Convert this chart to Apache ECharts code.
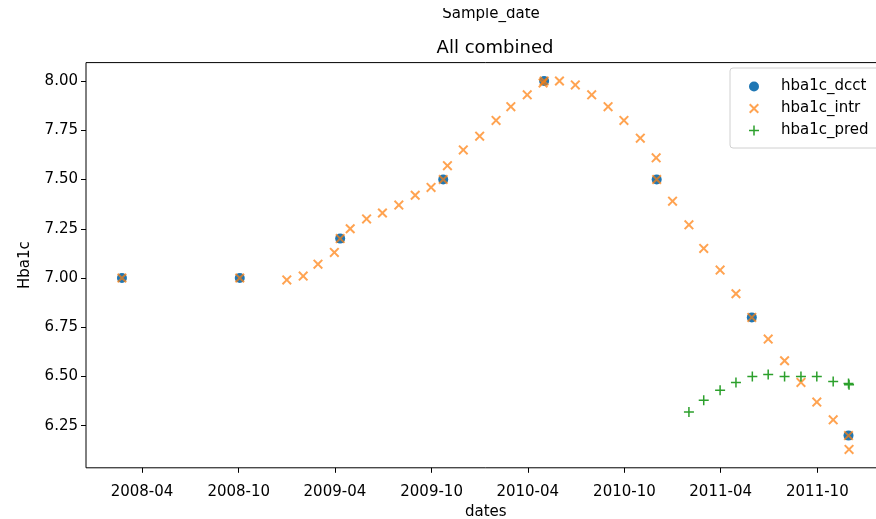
<!DOCTYPE html>
<html><head><meta charset="utf-8">
<script src="https://cdn.jsdelivr.net/npm/echarts@6/dist/echarts.min.js"></script>
<style>
html,body{margin:0;padding:0;background:#fff;overflow:hidden;width:876px;height:519px}
#wrap{position:relative;width:876px;height:519px;overflow:hidden}
#c{position:absolute;left:0;top:0;width:892px;height:519px}
</style>
</head><body><div id="wrap"><div id="c"></div></div>
<script>
// ---- data ----
const dcctDates = ['2008-02-23','2008-10-03','2009-04-11','2009-10-23','2010-05-02','2010-12-01','2011-05-30','2011-11-29'];
const dcctValues = [7.00, 7.00, 7.20, 7.50, 8.00, 7.50, 6.80, 6.20];

const intrDates = ['2008-02-23','2008-10-03','2008-12-31','2009-01-31','2009-02-28','2009-03-31','2009-04-11','2009-04-30',
  '2009-05-31','2009-06-30','2009-07-31','2009-08-31','2009-09-30','2009-10-23','2009-10-31','2009-11-30','2009-12-31',
  '2010-01-31','2010-02-28','2010-03-31','2010-04-30','2010-05-02','2010-05-31','2010-06-30','2010-07-31','2010-08-31',
  '2010-09-30','2010-10-31','2010-11-30','2010-12-01','2010-12-31','2011-01-31','2011-02-28','2011-03-31','2011-04-30',
  '2011-05-30','2011-06-30','2011-07-31','2011-08-31','2011-09-30','2011-10-31','2011-11-29','2011-11-30'];
const intrValues = [7.00, 7.00, 6.99, 7.01, 7.07, 7.13, 7.20, 7.25,
  7.30, 7.33, 7.37, 7.42, 7.46, 7.50, 7.57, 7.65, 7.72,
  7.80, 7.87, 7.93, 7.99, 8.00, 8.00, 7.98, 7.93, 7.87,
  7.80, 7.71, 7.61, 7.50, 7.39, 7.27, 7.15, 7.04, 6.92,
  6.80, 6.69, 6.58, 6.47, 6.37, 6.28, 6.20, 6.13];

const predDates = ['2011-01-31','2011-02-28','2011-03-31','2011-04-30','2011-05-31','2011-06-30','2011-07-31',
  '2011-08-31','2011-09-30','2011-10-31','2011-11-29','2011-11-30'];
const predValues = [6.32, 6.38, 6.43, 6.47, 6.50, 6.51, 6.50, 6.50, 6.50, 6.475, 6.465, 6.458];

const xTickDates = ['2008-04-01','2008-10-01','2009-04-01','2009-10-01','2010-04-01','2010-10-01','2011-04-01','2011-10-01'];
const yTicks = [6.25, 6.50, 6.75, 7.00, 7.25, 7.50, 7.75, 8.00];

// ---- helpers ----
const ts = s => { const p = s.split('-').map(Number); return Date.UTC(p[0], p[1]-1, p[2]); };
const pairs = (d, v) => d.map((s, i) => [ts(s), v[i]]);
const fmtDate = v => { const d = new Date(v); return d.getUTCFullYear() + '-' + String(d.getUTCMonth()+1).padStart(2,'0'); };

const FONT = 'DejaVu Sans';
const X_PATH = 'path://M0,1.4L1.4,0L5,3.6L8.6,0L10,1.4L6.4,5L10,8.6L8.6,10L5,6.4L1.4,10L0,8.6L3.6,5Z';
const PLUS_PATH = 'path://M4.25,0H5.75V4.25H10V5.75H5.75V10H4.25V5.75H0V4.25H4.25Z';

const chart = echarts.init(document.getElementById('c'), null, {renderer: 'canvas', width: 892, height: 519});
chart.setOption({
  animation: false,
  backgroundColor: '#fff',
  textStyle: {fontFamily: FONT},
  title: [
    {text: 'All combined', left: 490, top: 34, textAlign: 'center',
     textStyle: {fontFamily: FONT, fontSize: 18, fontWeight: 'normal', color: '#000'}},
    {text: 'Sample_date', left: 486, top: 2, textAlign: 'center',
     textStyle: {fontFamily: FONT, fontSize: 15, fontWeight: 'normal', color: '#000'}}
  ],
  graphic: [
    {type: 'rect', left: 380, top: 0, shape: {width: 220, height: 8}, style: {fill: '#fff'}, z: 100}
  ],
  legend: {
    left: 730, top: 68, orient: 'vertical',
    itemWidth: 44, itemHeight: 10, itemGap: 5,
    padding: [10, 40, 9, 19],
    borderColor: '#d0d0d0', borderWidth: 1, borderRadius: 3,
    backgroundColor: 'rgba(255,255,255,0.8)',
    textStyle: {fontFamily: FONT, fontSize: 15, color: '#000', lineHeight: 17},
    data: ['hba1c_dcct', 'hba1c_intr', 'hba1c_pred']
  },
  grid: {left: 86, top: 62.6, width: 799.5, height: 405.2, outerBoundsMode: 'none', containLabel: false,
         show: true, borderColor: '#000', borderWidth: 1, backgroundColor: 'transparent'},
  xAxis: {
    type: 'value', min: ts('2007-12-17'), max: ts('2012-02-07'),
    name: 'dates', nameLocation: 'middle', nameGap: 35,
    nameTextStyle: {fontFamily: FONT, fontSize: 15, color: '#000'},
    axisLine: {show: false},
    axisTick: {show: true, inside: false, length: 5, lineStyle: {color: '#000', width: 1}, customValues: xTickDates.map(ts)},
    axisLabel: {fontFamily: FONT, fontSize: 15, color: '#000', margin: 17, customValues: xTickDates.map(ts), formatter: fmtDate},
    splitLine: {show: false}
  },
  yAxis: {
    type: 'value', min: 6.0365, max: 8.0935,
    name: 'Hba1c', nameLocation: 'middle', nameGap: 53,
    nameTextStyle: {fontFamily: FONT, fontSize: 15, color: '#000'},
    axisLine: {show: false},
    axisTick: {show: true, inside: false, length: 5, lineStyle: {color: '#000', width: 1}, customValues: yTicks},
    axisLabel: {fontFamily: FONT, fontSize: 15, color: '#000', margin: 8, customValues: yTicks, formatter: v => v.toFixed(2)},
    splitLine: {show: false}
  },
  series: [
    {name: 'hba1c_dcct', type: 'scatter', symbol: 'circle', symbolSize: 10,
     itemStyle: {color: '#1f77b4', opacity: 1}, data: pairs(dcctDates, dcctValues), z: 2},
    {name: 'hba1c_intr', type: 'scatter', symbol: X_PATH, symbolSize: 10,
     itemStyle: {color: '#ff7f0e', opacity: 0.72}, data: pairs(intrDates, intrValues), z: 3},
    {name: 'hba1c_pred', type: 'scatter', symbol: PLUS_PATH, symbolSize: 10,
     itemStyle: {color: '#2ca02c', opacity: 1}, data: pairs(predDates, predValues), z: 4}
  ]
});
</script></body></html>
